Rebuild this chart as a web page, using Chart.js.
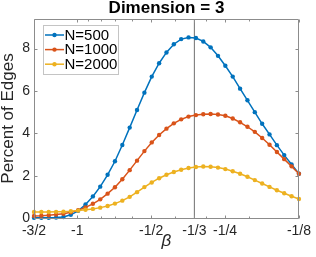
<!DOCTYPE html>
<html>
<head>
<meta charset="utf-8">
<script src="https://cdn.jsdelivr.net/npm/chart.js@4.4.0/dist/chart.umd.min.js"></script>
<style>
  html, body { margin: 0; padding: 0; background: #fff; }
  #contenedor { width: 316px; height: 257px; }
</style>
</head>
<body>
<div id="contenedor"><canvas id="grafica"></canvas></div>
<script>
// Valores (beta en escala log, eje invertido)
const beta = [-1.5, -1.4, -1.3066, -1.2194, -1.1381, -1.0622, -0.9913, -0.9252, -0.8635, -0.8059,
  -0.7521, -0.7020, -0.6551, -0.6114, -0.5707, -0.5326, -0.4971, -0.4639, -0.4330, -0.4041,
  -0.3772, -0.3520, -0.3285, -0.3066, -0.2862, -0.2671, -0.2493, -0.2326, -0.2171, -0.2026,
  -0.1891, -0.1765, -0.1647, -0.1537, -0.1435, -0.1339, -0.125];
const n500 = [0.01, 0.01, 0.01, 0.02, 0.05, 0.15, 0.34, 0.64, 1.02, 1.48,
  2.04, 2.68, 3.45, 4.27, 5.10, 5.92, 6.68, 7.31, 7.82, 8.21,
  8.45, 8.53, 8.50, 8.34, 8.06, 7.66, 7.19, 6.68, 6.11, 5.56,
  5.00, 4.45, 3.95, 3.44, 2.97, 2.53, 2.09];
const n1000 = [0.10, 0.11, 0.13, 0.16, 0.20, 0.27, 0.37, 0.50, 0.67, 0.88,
  1.15, 1.45, 1.83, 2.26, 2.71, 3.16, 3.57, 3.92, 4.22, 4.47,
  4.66, 4.79, 4.86, 4.90, 4.91, 4.89, 4.83, 4.70, 4.52, 4.31,
  4.07, 3.78, 3.46, 3.12, 2.78, 2.44, 2.09];
const n2000 = [0.28, 0.28, 0.28, 0.29, 0.30, 0.32, 0.35, 0.39, 0.43, 0.49,
  0.57, 0.68, 0.82, 1.00, 1.22, 1.46, 1.68, 1.88, 2.04, 2.17,
  2.28, 2.36, 2.41, 2.43, 2.42, 2.38, 2.31, 2.21, 2.09, 1.95,
  1.79, 1.63, 1.47, 1.31, 1.17, 1.03, 0.90];
const etiquetas = ["N=500", "N=1000", "N=2000"];
const colores = ["#0072BD", "#D95319", "#EDB120"];
const xTicks = [-3/2, -1, -1/2, -1/3, -1/4, -1/8];
const xTickLabels = ["-3/2", "-1", "-1/2", "-1/3", "-1/4", "-1/8"];
const xMinor = [-0.9, -0.8, -0.7, -0.6, -0.4, -0.3, -0.2];
const yTicks = [0, 2, 4, 6, 8];
const yMax = 9.4;
const betaLinea = -1/3;

const fuente = "'Liberation Sans', Arial, Helvetica, sans-serif";
const gris = "#262626";

// Armamos los datasets a partir de los arreglos
function serie(valores) {
  return beta.map((b, i) => ({ x: -b, y: valores[i] }));
}

const curvas = [n500, n1000, n2000].map((v, i) => ({
  label: etiquetas[i],
  data: serie(v),
  borderColor: colores[i],
  backgroundColor: colores[i],
  borderWidth: 1.5,
  pointRadius: 2.2,
  pointBorderWidth: 0,
  pointBackgroundColor: colores[i],
  tension: 0,
  clip: false,
  order: 3 - i,
}));

// Linea vertical en beta = -1/3
const lineaVertical = {
  label: "",
  data: [{ x: -betaLinea, y: 0 }, { x: -betaLinea, y: yMax }],
  borderColor: "#707070",
  borderWidth: 1,
  pointRadius: 0,
  order: 4,
};

// Caja y marcas hacia adentro (estilo MATLAB)
const marcasEjes = {
  id: "marcasEjes",
  afterDatasetsDraw(chart) {
    const { ctx, chartArea: a, scales } = chart;
    const sx = scales.x, sy = scales.y;
    const L = Math.round(a.left) + 0.5, R = Math.round(a.right) - 0.5;
    const T = Math.round(a.top) + 0.5, B = Math.round(a.bottom) + 0.5;
    ctx.save();
    ctx.strokeStyle = "#8c8c8c";
    ctx.lineWidth = 1;
    ctx.beginPath();
    ctx.rect(L, T, R - L, B - T);
    xTicks.forEach(t => {
      const px = Math.round(sx.getPixelForValue(-t)) + 0.5;
      ctx.moveTo(px, B); ctx.lineTo(px, B - 3);
      ctx.moveTo(px, T); ctx.lineTo(px, T + 3);
    });
    xMinor.forEach(t => {
      const px = Math.round(sx.getPixelForValue(-t)) + 0.5;
      ctx.moveTo(px, B); ctx.lineTo(px, B - 2);
      ctx.moveTo(px, T); ctx.lineTo(px, T + 2);
    });
    yTicks.forEach(t => {
      const py = Math.round(sy.getPixelForValue(t)) + 0.5;
      ctx.moveTo(L, py); ctx.lineTo(L + 3, py);
      ctx.moveTo(R, py); ctx.lineTo(R - 3, py);
    });
    ctx.stroke();
    ctx.restore();
  },
};

// Leyenda dentro del area de la grafica
const leyendaInterna = {
  id: "leyendaInterna",
  afterDraw(chart) {
    const { ctx, chartArea: a } = chart;
    const x0 = Math.round(a.left) + 9, y0 = Math.round(a.top) + 6;
    const w = 76, h = 50;
    ctx.save();
    ctx.fillStyle = "#fff";
    ctx.fillRect(x0, y0, w, h);
    ctx.strokeStyle = "#c4c4c4";
    ctx.lineWidth = 1;
    ctx.strokeRect(x0 + 0.5, y0 + 0.5, w - 1, h - 1);
    ctx.font = "15px " + fuente;
    ctx.textBaseline = "middle";
    curvas.forEach((ds, i) => {
      const yc = y0 + 10 + i * 14.6;
      ctx.strokeStyle = ds.borderColor;
      ctx.lineWidth = 1.5;
      ctx.beginPath();
      ctx.moveTo(x0 + 2, yc);
      ctx.lineTo(x0 + 21, yc);
      ctx.stroke();
      ctx.fillStyle = ds.borderColor;
      ctx.beginPath();
      ctx.arc(x0 + 11.5, yc, 2.2, 0, Math.PI * 2);
      ctx.fill();
      ctx.fillStyle = "#000";
      ctx.fillText(ds.label, x0 + 21.5, yc + 0.5);
    });
    ctx.restore();
  },
};

const ctx = document.getElementById("grafica");

new Chart(ctx, {
  type: "line",
  data: { datasets: [...curvas, lineaVertical] },
  options: {
    responsive: true,
    maintainAspectRatio: false,
    animation: false,
    layout: { padding: { left: 0, right: 12, top: 0, bottom: 0 } },
    plugins: {
      legend: { display: false },
      tooltip: { enabled: false },
      title: {
        display: true,
        text: "Dimension = 3",
        fullSize: false,
        color: "#000",
        font: { family: fuente, size: 17, weight: "bold", lineHeight: 1 },
        padding: { top: 0, bottom: 2 },
      },
    },
    scales: {
      x: {
        type: "logarithmic",
        reverse: true,
        min: 0.125,
        max: 1.5,
        grid: { display: false, drawTicks: false, tickLength: 0 },
        border: { display: false },
        afterBuildTicks: (scale) => {
          scale.ticks = xTicks.map(t => ({ value: -t }));
        },
        afterFit: (scale) => { scale.height = 39; },
        ticks: {
          autoSkip: false,
          maxRotation: 0,
          padding: 5,
          color: gris,
          font: { family: fuente, size: 14 },
          callback: (value) => {
            const k = xTicks.findIndex(t => Math.abs(-t - value) < 1e-6);
            return k >= 0 ? xTickLabels[k] : "";
          },
        },
        title: {
          display: true,
          text: "β",
          color: gris,
          font: { family: fuente, size: 17, style: "italic", lineHeight: 1 },
          padding: { top: 0, bottom: 7 },
        },
      },
      y: {
        min: 0,
        max: yMax,
        grid: { display: false, drawTicks: false, tickLength: 0 },
        border: { display: false },
        afterBuildTicks: (scale) => {
          scale.ticks = yTicks.map(t => ({ value: t }));
        },
        afterFit: (scale) => { scale.width = 34; },
        ticks: {
          padding: 4,
          color: gris,
          font: { family: fuente, size: 14 },
        },
        title: {
          display: true,
          text: "Percent of Edges",
          color: gris,
          font: { family: fuente, size: 17, lineHeight: 1 },
          padding: { top: 0, bottom: 0 },
        },
      },
    },
  },
  plugins: [marcasEjes, leyendaInterna],
});
</script>
</body>
</html>
